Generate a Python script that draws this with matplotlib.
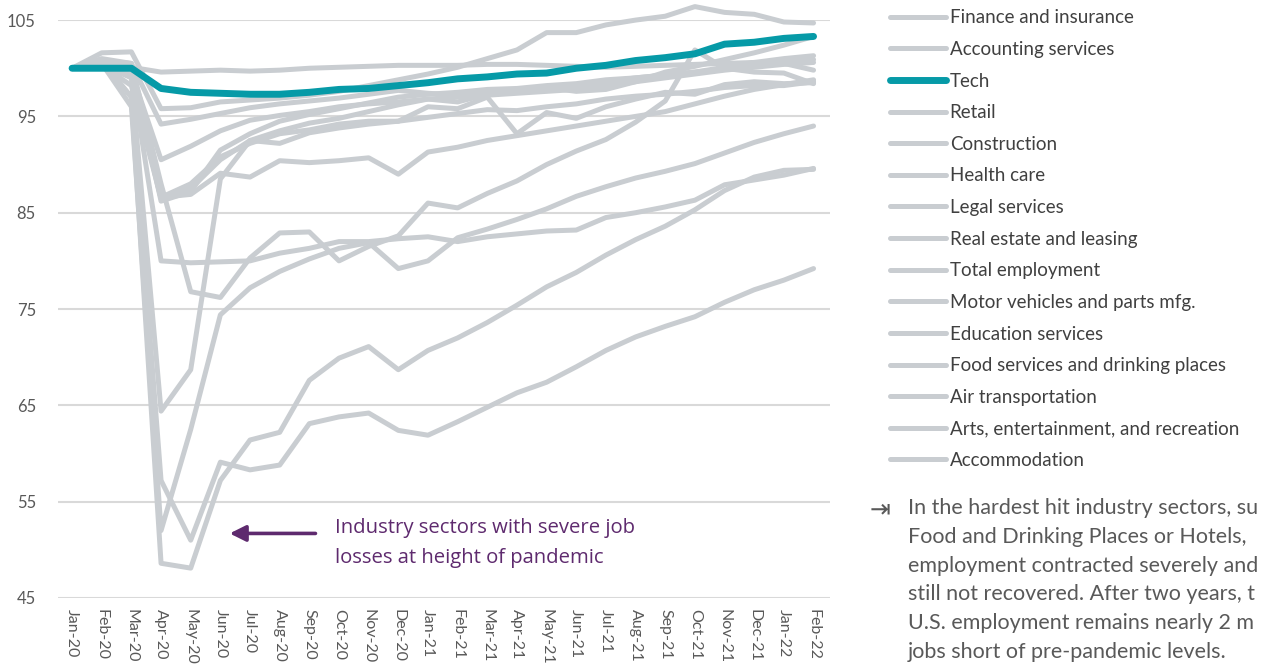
import matplotlib.pyplot as plt

months = ['Jan-20', 'Feb-20', 'Mar-20', 'Apr-20', 'May-20', 'Jun-20', 'Jul-20', 'Aug-20',
          'Sep-20', 'Oct-20', 'Nov-20', 'Dec-20', 'Jan-21', 'Feb-21', 'Mar-21', 'Apr-21',
          'May-21', 'Jun-21', 'Jul-21', 'Aug-21', 'Sep-21', 'Oct-21', 'Nov-21', 'Dec-21',
          'Jan-22', 'Feb-22']

# employment index, Jan-20 = 100
finance = [100, 101.6, 101.7, 95.8, 95.9, 96.5, 96.7, 96.9, 97.2, 97.6, 98.2, 98.8, 99.4,
           100.1, 101.0, 101.9, 103.7, 103.7, 104.5, 105.0, 105.4, 106.4, 105.8, 105.6, 104.8, 104.7]
accounting = [100, 101.0, 100.5, 94.2, 94.7, 95.3, 95.9, 96.3, 96.6, 96.9, 97.3, 97.7, 97.4,
              97.2, 97.6, 97.8, 98.0, 97.6, 97.8, 98.6, 99.6, 100.2, 100.9, 101.6, 102.4, 103.3]
tech = [100, 100, 100, 97.9, 97.5, 97.4, 97.3, 97.3, 97.5, 97.8, 97.9, 98.2, 98.5,
        98.9, 99.1, 99.4, 99.5, 100.0, 100.3, 100.8, 101.1, 101.5, 102.5, 102.7, 103.1, 103.3]
retail = [100, 100.3, 98.2, 86.5, 87.5, 90.5, 92.5, 93.5, 94.3, 94.8, 95.5, 96.2, 96.8,
          96.5, 97.3, 97.8, 98.0, 98.2, 98.6, 99.0, 99.3, 99.6, 100.1, 100.6, 101.0, 101.3]
construction = [100, 100.5, 100.0, 86.2, 87.2, 91.5, 93.2, 94.5, 95.2, 95.8, 96.4, 97.0, 97.3,
                97.5, 97.8, 97.9, 98.2, 98.4, 98.8, 99.0, 99.3, 99.6, 99.9, 100.3, 100.6, 100.9]
health = [100, 100.4, 99.6, 90.5, 91.9, 93.5, 94.6, 95.1, 95.5, 96.0, 96.3, 96.5, 96.8,
          97.0, 97.2, 97.4, 97.6, 97.8, 98.2, 98.6, 99.0, 99.4, 99.8, 100.1, 100.4, 100.6]
legal = [100, 100.3, 100.1, 99.6, 99.7, 99.8, 99.7, 99.8, 100.0, 100.1, 100.2, 100.3, 100.3,
         100.3, 100.4, 100.4, 100.3, 100.2, 100.1, 100.2, 100.3, 100.4, 100.5, 100.6, 100.5, 99.8]
real_estate = [100, 100.6, 100.2, 86.6, 86.9, 89.1, 88.7, 90.4, 90.2, 90.4, 90.7, 89.0, 91.3,
               91.8, 92.5, 93.0, 93.5, 94.0, 94.5, 95.0, 95.5, 96.3, 97.1, 97.8, 98.3, 98.8]
total = [100, 100.2, 99.1, 86.6, 88.0, 90.8, 92.2, 93.2, 93.6, 94.2, 94.5, 94.5, 94.9,
         95.3, 95.7, 95.6, 96.0, 96.3, 96.8, 97.1, 97.3, 97.6, 98.0, 98.2, 98.2, 98.6]
motor = [100, 100.4, 99.0, 64.4, 68.7, 88.5, 92.5, 92.2, 93.3, 93.8, 94.2, 94.5, 96.0,
         95.8, 97.0, 93.2, 95.4, 94.8, 96.0, 96.8, 97.5, 97.3, 98.3, 98.6, 98.4, 98.5]
education = [100, 100.8, 100.5, 88.0, 76.8, 76.2, 80.3, 82.9, 83.0, 80.0, 81.5, 82.6, 86.0,
             85.5, 87.0, 88.3, 90.0, 91.4, 92.6, 94.4, 96.6, 101.9, 100.0, 99.6, 99.5, 98.4]
food = [100, 100.5, 96.0, 52.0, 62.5, 74.4, 77.2, 78.9, 80.2, 81.3, 81.9, 79.2, 80.0,
        82.4, 83.3, 84.3, 85.4, 86.7, 87.7, 88.6, 89.3, 90.1, 91.2, 92.3, 93.2, 94.0]
air = [100, 100.5, 99.5, 80.0, 79.8, 79.9, 80.0, 80.8, 81.3, 82.0, 82.0, 82.3, 82.5,
       82.0, 82.5, 82.8, 83.1, 83.2, 84.5, 85.0, 85.6, 86.3, 87.9, 88.4, 88.9, 89.6]
arts = [100, 100.8, 97.0, 48.6, 48.1, 57.2, 61.4, 62.2, 67.6, 69.9, 71.1, 68.7, 70.7,
        72.0, 73.6, 75.4, 77.3, 78.8, 80.6, 82.2, 83.6, 85.3, 87.3, 88.7, 89.4, 89.5]
accommodation = [100, 100.6, 97.0, 57.2, 51.0, 59.1, 58.3, 58.8, 63.1, 63.8, 64.2, 62.4, 61.9,
                 63.3, 64.8, 66.3, 67.4, 69.0, 70.7, 72.1, 73.2, 74.2, 75.7, 77.0, 78.0, 79.2]

series = [('Finance and insurance', finance), ('Accounting services', accounting),
          ('Tech', tech), ('Retail', retail), ('Construction', construction),
          ('Health care', health), ('Legal services', legal),
          ('Real estate and leasing', real_estate), ('Total employment', total),
          ('Motor vehicles and parts mfg.', motor), ('Education services', education),
          ('Food services and drinking places', food), ('Air transportation', air),
          ('Arts, entertainment, and recreation', arts), ('Accommodation', accommodation)]

note_lines = ['In the hardest hit industry sectors, su',
              'Food and Drinking Places or Hotels,',
              'employment contracted severely and',
              'still not recovered. After two years, t',
              'U.S. employment remains nearly 2 m',
              'jobs short of pre-pandemic levels.']

grey = '#C9CDD1'
teal = '#069AA7'
purple = '#5E2A6E'

plt.rcParams['font.family'] = ['Lato', 'DejaVu Sans']

fig = plt.figure(figsize=(12.64, 6.65), dpi=100)
ax = fig.add_axes([0.046, 0.1008, 0.611, 0.869])

x = list(range(len(months)))
for name, vals in series:
    if name == 'Tech':
        ax.plot(x, vals, color=teal, lw=5, label=name, zorder=5, clip_on=False,
                solid_capstyle='round', solid_joinstyle='round')
    else:
        ax.plot(x, vals, color=grey, lw=3.6, label=name, zorder=3, clip_on=False,
                solid_capstyle='round', solid_joinstyle='round')

ax.set_xlim(-0.47, 25.57)
ax.set_ylim(45, 105)
ax.set_yticks(range(45, 106, 10))
ax.set_xticks(x)
ax.set_xticklabels(months, rotation=-90, fontsize=11.5, color='#595959')
ax.tick_params(axis='y', labelsize=12, labelcolor='#595959', length=0, pad=16)
ax.tick_params(axis='x', length=0, pad=8)
ax.grid(axis='y', color='#D9D9D9', lw=1.5)
ax.set_axisbelow(True)
for s in ax.spines.values():
    s.set_visible(False)

# annotation for the hardest hit sectors
ax.annotate('', xy=(5.22, 51.7), xytext=(8.3, 51.7),
            arrowprops=dict(arrowstyle='-|>', color=purple, lw=2.6, mutation_scale=24))
ax.text(8.87, 50.7, 'Industry sectors with severe job\nlosses at height of pandemic',
        color=purple, fontsize=14.6, va='center', ha='left', linespacing=1.62,
        family=['Open Sans', 'DejaVu Sans'])

leg = ax.legend(loc='upper left', bbox_to_anchor=(0.704, 0.986),
                bbox_transform=fig.transFigure, frameon=False, fontsize=13.5,
                handlelength=2.99, handletextpad=0.2, labelspacing=0.78,
                borderpad=0, borderaxespad=0)
for t in leg.get_texts():
    t.set_color('#404040')

fig.text(870 / 1264, 1 - 509 / 665, '\u21e5', fontsize=18, color='#595959',
         va='center', family=['DejaVu Sans'])
fig.text(908 / 1264, 1 - 498 / 665, '\n'.join(note_lines),
         fontsize=15.5, color='#595959', va='top', ha='left', linespacing=1.55)

fig.savefig('out.png', dpi=100)
